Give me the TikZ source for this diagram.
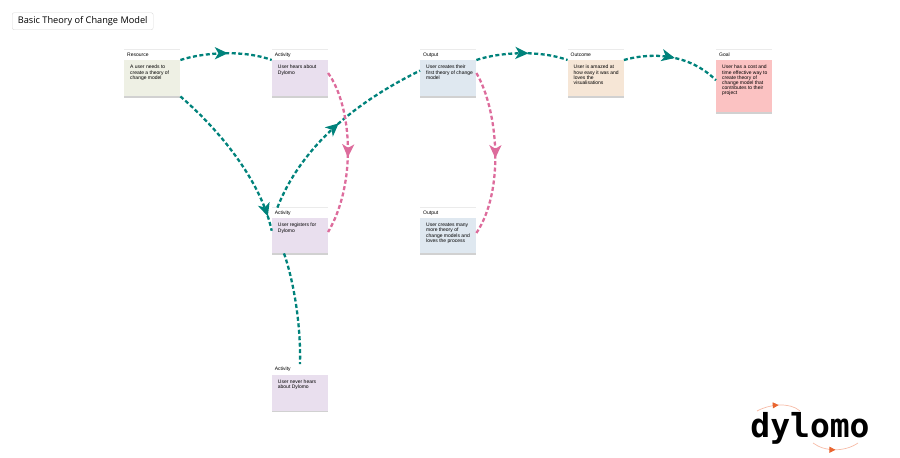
\documentclass[tikz,border=0pt]{standalone}
\usepackage{fontspec}
\setmainfont{Liberation Sans}
\newfontfamily\titlefont{Open Sans}
\newfontfamily\logofont{DejaVu Sans Mono}
\usetikzlibrary{arrows.meta,decorations.markings,shadows}
\definecolor{flowteal}{HTML}{00827B}
\definecolor{flowpink}{HTML}{DD6C9C}
\definecolor{resourcecol}{HTML}{EEF0E4}
\definecolor{activitycol}{HTML}{E9DFEE}
\definecolor{outputcol}{HTML}{DFE8F0}
\definecolor{outcomecol}{HTML}{F6E6D6}
\definecolor{goalcol}{HTML}{FBC2C2}
\definecolor{logoarc}{HTML}{F6BBA6}
\definecolor{logotip}{HTML}{E9652F}
\newcommand{\cardtext}[2]{\parbox[c][#1][t]{53pt}{\raggedright\leftskip=4.5pt\fontsize{5pt}{5.2pt}\selectfont #2}}
\tikzset{
  cardbody/.style={rectangle, anchor=north west, inner xsep=1.5pt, inner ysep=5pt, minimum width=56pt,
    drop shadow={shadow xshift=0pt, shadow yshift=-1.4pt, fill=black!18, opacity=1}},
  cardhead/.style={rectangle, anchor=south west, fill=white, inner xsep=3pt, inner ysep=0pt,
    text width=50pt, minimum height=10pt, align=left, font=\fontsize{5pt}{5.2pt}\selectfont,
    drop shadow={shadow xshift=0pt, shadow yshift=0.4pt, fill=black!8, opacity=1}},
  flow/.style={draw=flowteal, line width=2.3pt, dash pattern=on 4pt off 2.5pt},
  loopback/.style={draw=flowpink, line width=2.3pt, dash pattern=on 4pt off 2.5pt},
  midarrow/.style 2 args={postaction={decorate, decoration={markings,
    mark=at position #1 with {\arrow[#2]{Stealth[length=13pt,width=12pt,inset=3.5pt]}}}}},
  arctip/.style={postaction={decorate, decoration={markings,
    mark=at position .5 with {\arrow[logotip]{Stealth[length=6pt,width=6pt,inset=0pt]}}}}}
}
\begin{document}
\begin{tikzpicture}[x=1pt,y=-1pt]
  \useasboundingbox (0,0) rectangle (900,458);
  \node [rectangle, rounded corners=2pt, draw=black!15, fill=white, anchor=north west, minimum width=141pt,
         minimum height=17pt, inner sep=0pt, font=\titlefont\fontsize{9.2pt}{11pt}\selectfont] (title) at (12,12.5) {Basic Theory of Change Model};
  % cards
  \node [cardbody, fill=resourcecol] (res) at (124,60) {\cardtext{26pt}{A user needs to\\create a theory of\\change model}};
  \node [cardhead] (reshead) at (res.north west) {Resource};
  \node [cardbody, fill=activitycol] (act1) at (271.7,60) {\cardtext{26pt}{User hears about\\Dylomo}};
  \node [cardhead] (act1head) at (act1.north west) {Activity};
  \node [cardbody, fill=outputcol] (out1) at (420,60) {\cardtext{26pt}{User creates their\\first theory of change\\model}};
  \node [cardhead] (out1head) at (out1.north west) {Output};
  \node [cardbody, fill=outcomecol] (outc) at (567.5,60) {\cardtext{26pt}{User is amazed at\\how easy it was and\\loves the\\visualisations}};
  \node [cardhead] (outchead) at (outc.north west) {Outcome};
  \node [cardbody, fill=goalcol] (goal) at (716,60) {\cardtext{42pt}{User has a cost and\\time effective way to\\create theory of\\change model that\\contributes to their\\project}};
  \node [cardhead] (goalhead) at (goal.north west) {Goal};
  \node [cardbody, fill=activitycol] (act2) at (271.7,218) {\cardtext{25pt}{User registers for\\Dylomo}};
  \node [cardhead] (act2head) at (act2.north west) {Activity};
  \node [cardbody, fill=outputcol] (out2) at (420,218) {\cardtext{25pt}{User creates many\\more theory of\\change models and\\loves the process}};
  \node [cardhead] (out2head) at (out2.north west) {Output};
  \node [cardbody, fill=activitycol] (act3) at (271.7,374.5) {\cardtext{26pt}{User never hears\\about Dylomo}};
  \node [cardhead] (act3head) at (act3.north west) {Activity};
  % connectors
  \draw [flow, midarrow={.52}{flowteal}] (res.north east) .. controls (205,52) and (245,50) .. (act1.north west);
  \draw [flow, midarrow={.91}{flowteal}] (res.south east) .. controls (225,135) and (262,185) .. (act2.170);
  \draw [flow, midarrow={.52}{flowteal}] (act2head.167) .. controls (300,150) and (350,105) .. (out1.165);
  \draw [flow, midarrow={.57}{flowteal}] (out1.north east) .. controls (500,52) and (540,50) .. (outc.north west);
  \draw [flow, midarrow={.52}{flowteal}] (outc.north east) .. controls (645,54) and (685,50) .. (goal.168);
  \draw [flow] (act2.south west -| 284,0) .. controls (295,285) and (301,330) .. (act3head.north -| 300,0);
  \draw [loopback, midarrow={.53}{flowpink}] (act1.east |- 0,73) .. controls (353,108) and (356,185) .. (act2.east |- 0,232);
  \draw [loopback, midarrow={.53}{flowpink}] (out1.east |- 0,73) .. controls (498,110) and (505,190) .. (out2.east |- 0,233);
  % logo
  \node [anchor=base, inner sep=0pt, font=\logofont\fontsize{33pt}{33pt}\selectfont\bfseries] (logo) at (810,437) {dylomo};
  \coordinate (arcaw) at (757,411);
  \coordinate (arcae) at (800,411);
  \coordinate (arcbw) at (813,443);
  \coordinate (arcbe) at (858,443);
  \draw [logoarc, line width=0.7pt, arctip] (arcaw) .. controls (770,404) and (790,402) .. (arcae);
  \draw [logoarc, line width=0.7pt, arctip] (arcbw) .. controls (825,452) and (845,452) .. (arcbe);
\end{tikzpicture}
\end{document}
